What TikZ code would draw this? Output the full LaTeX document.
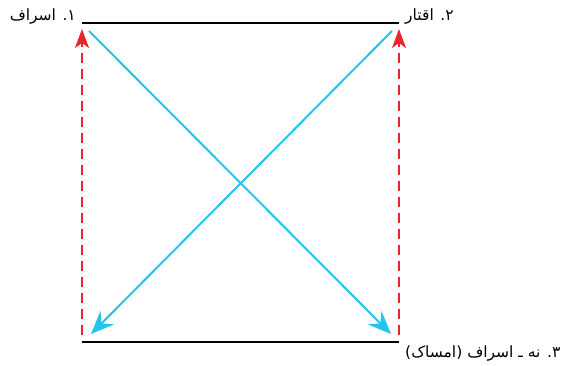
\documentclass[tikz,border=0pt]{standalone}
\usepackage{fontspec}
\usetikzlibrary{arrows.meta}
\TeXXeTstate=1
\newfontfamily\arabicfont[Script=Arabic]{DejaVu Sans}
\definecolor{redline}{HTML}{E8262B}
\definecolor{blueline}{HTML}{22C4F0}
\tikzset{
  baseline/.style={draw=black, line width=2pt},
  redarrow/.style={draw=redline, line width=2pt, dash pattern=on 10pt off 6pt, -{Stealth[length=19pt,width=14pt,inset=5pt]}},
  bluearrow/.style={draw=blueline, line width=2pt, -{Stealth[length=23pt,width=19pt,inset=8pt]}},
  label/.style={font=\arabicfont\fontsize{15.5}{18}\selectfont, inner sep=0pt}
}
\begin{document}
\begin{tikzpicture}[x=1pt,y=-1pt]
\useasboundingbox (0,0) rectangle (572,366);
% corners
\coordinate (TL) at (82,23);
\coordinate (TR) at (399,23);
\coordinate (BL) at (82,342);
\coordinate (BR) at (399,342);
% arrow ends
\coordinate (rlS) at (82,335);
\coordinate (rlE) at (82,29);
\coordinate (rrS) at (399,335);
\coordinate (rrE) at (399,29);
\coordinate (b1S) at (89,31);
\coordinate (b1E) at (391,334);
\coordinate (b2S) at (392,31);
\coordinate (b2E) at (91,334);
% horizontal lines
\draw[baseline] (TL) -- (TR);
\draw[baseline] (BL) -- (BR);
% red dashed arrows
\draw[redarrow] (rlS) -- (rlE);
\draw[redarrow] (rrS) -- (rrE);
% blue arrows
\draw[bluearrow] (b1S) -- (b1E);
\draw[bluearrow] (b2S) -- (b2E);
% labels
\node[label, anchor=east] (l1) at (76,17) {\beginR ۱. اسراف\endR};
\node[label, anchor=west] (l2) at (405,17) {\beginR ۲. اقتار\endR};
\node[label, anchor=west] (l3) at (405,354) {\beginR ۳. نه ـ اسراف (امساک)\endR};
\end{tikzpicture}
\end{document}
